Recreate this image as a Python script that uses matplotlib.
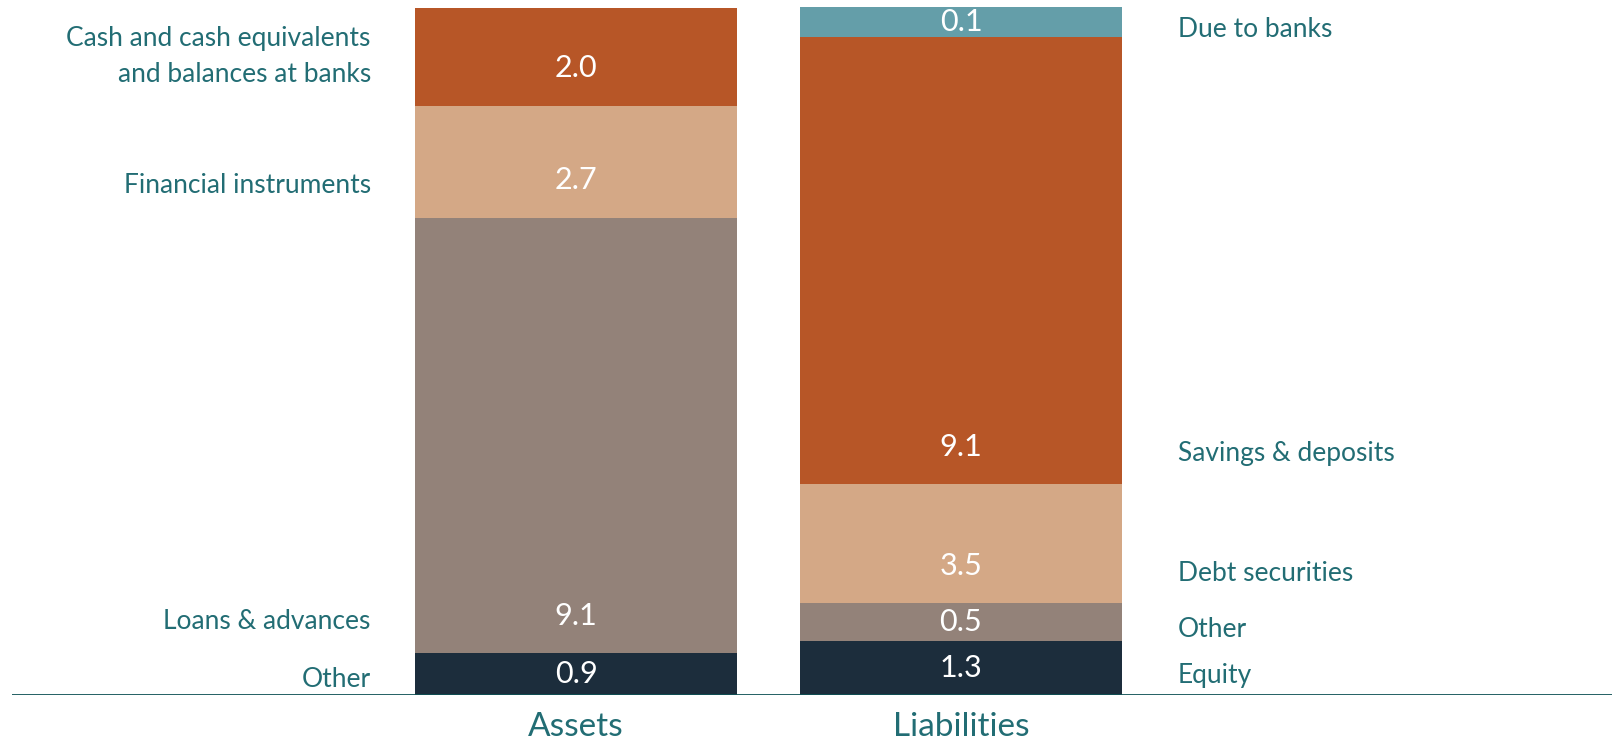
import matplotlib
matplotlib.use("Agg")
import matplotlib.pyplot as plt

# --- data (segment heights, bottom to top) ---
columns = ["Assets", "Liabilities"]

asset_names = ["Other", "Loans & advances", "Financial instruments",
               "Cash and cash equivalents\nand balances at banks"]
asset_heights = [0.90, 9.32, 2.40, 2.09]
asset_labels = ["0.9", "9.1", "2.7", "2.0"]

liab_names = ["Equity", "Other", "Debt securities", "Savings & deposits", "Due to banks"]
liab_heights = [1.15, 0.81, 2.56, 9.56, 0.64]
liab_labels = ["1.3", "0.5", "3.5", "9.1", "0.1"]

# colours
NAVY = "#1c2d3c"
TAUPE = "#938279"
TAN = "#d4a886"
RUST = "#b75627"
TEAL = "#649ea9"
TXT = "#226d74"
LINE = "#0f5255"

asset_colors = [NAVY, TAUPE, TAN, RUST]
liab_colors = [NAVY, TAUPE, TAN, RUST, TEAL]

plt.rcParams['font.family'] = ['Lato', 'DejaVu Sans']

fig = plt.figure(figsize=(16.12, 7.42), dpi=100)
ax = fig.add_axes([12 / 1612, 47 / 742, 1 - 12 / 1612, 695 / 742])

bar_w = 0.836
label_off = 0.80  # value labels sit this far above segment bottom


def stack(x, heights, colors, labels, names, side):
    bottom = 0.0
    for h, c, lab, name in zip(heights, colors, labels, names):
        ax.bar(x, h, bottom=bottom, width=bar_w, color=c, edgecolor='none', zorder=2)
        y = bottom + min(label_off, h / 2)
        ax.text(x, y, lab, ha='center', va='center', color='white', fontsize=22, zorder=3)
        if side == 'left':
            ly = bottom + h / 2 if '\n' in name else y - 0.12
            ax.text(x - bar_w / 2 - 0.115, ly, name, ha='right', va='center',
                    color=TXT, fontsize=19, linespacing=1.55)
        else:
            ax.text(x + bar_w / 2 + 0.145, y - 0.15, name, ha='left', va='center',
                    color=TXT, fontsize=19)
        bottom += h


stack(0, asset_heights, asset_colors, asset_labels, asset_names, 'left')
stack(1, liab_heights, liab_colors, liab_labels, liab_names, 'right')

ax.axhline(0, color=LINE, lw=2.0, zorder=4)

ax.set_xlim(-1.465, 2.691)
ax.set_ylim(0, 14.88)
ax.set_xticks([0, 1])
ax.set_xticklabels(columns, fontsize=24, color=TXT)
ax.tick_params(axis='x', length=0, pad=12)
ax.set_yticks([])
for s in ax.spines.values():
    s.set_visible(False)

fig.savefig("out.png", dpi=100)
